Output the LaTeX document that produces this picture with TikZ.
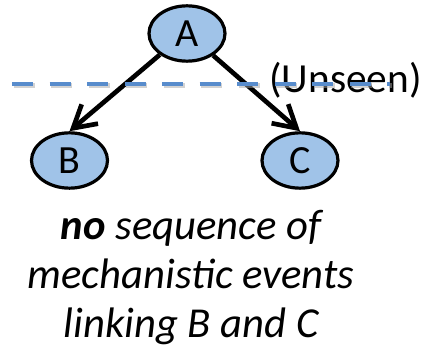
\documentclass[tikz,border=0pt]{standalone}
\usepackage{fontspec}
\setmainfont{Carlito}
\usetikzlibrary{shapes.geometric,arrows.meta}
\definecolor{nodefill}{RGB}{160,195,232}
\definecolor{dashblue}{RGB}{88,140,204}
\tikzset{
  varnode/.style={ellipse,draw=black,line width=2.4pt,fill=nodefill,
    minimum width=57pt,minimum height=41.5pt,inner sep=0pt,
    font=\fontsize{30}{36}\selectfont},
  causal/.style={line width=3.5pt,-{Straight Barb[length=16.5pt,width=19pt,line width=3.5pt]}},
  unseenline/.style={dashblue,line width=3.2pt,dash pattern=on 15.75pt off 12.4pt},
  unseenshadow/.style={black!35,opacity=0.5,line width=3.2pt,dash pattern=on 15.75pt off 12.4pt},
  caption/.style={inner sep=0pt,anchor=base,font=\fontsize{32}{38}\selectfont\itshape},
}
\begin{document}
\begin{tikzpicture}[x=0.75pt,y=-0.75pt]
\useasboundingbox (0,0) rectangle (426,348);
\node[varnode] (A) at (187,33.5) {A};
\node[varnode] (B) at (69.5,160.5) {B};
\node[varnode] (C) at (300,160.5) {C};
\draw[causal] (A.218) -- (B.north);
\draw[causal] (A.320) -- (C.north);
\node[inner sep=0pt,anchor=base west,font=\fontsize{31}{37}\selectfont] (U) at (269,93) {(Unseen)};
\coordinate (d1) at (12,84);
\coordinate (d2) at (390,84);
\coordinate (s1) at (13.5,85.5);
\coordinate (s2) at (391.5,85.5);
\draw[unseenshadow] (s1) -- (s2);
\draw[unseenline] (d1) -- (d2);
\node[caption] (t1) at (191,240) {\textbf{no} sequence of};
\node[caption] (t2) at (191,289) {mechanistic events};
\node[caption] (t3) at (191,338) {linking B and C};
\end{tikzpicture}
\end{document}
